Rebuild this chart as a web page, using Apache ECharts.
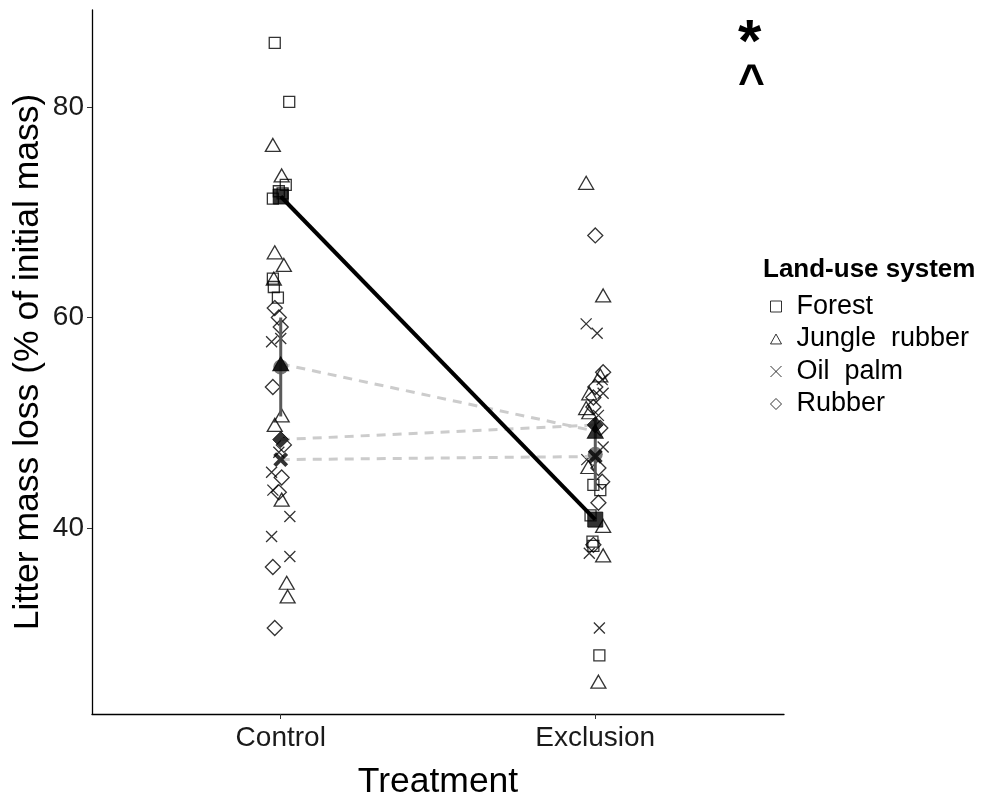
<!DOCTYPE html>
<html><head><meta charset="utf-8">
<script src="https://cdn.jsdelivr.net/npm/echarts@6/dist/echarts.min.js"></script>
<style>html,body{margin:0;padding:0;background:#fff}#c{width:981px;height:797px}</style>
</head><body><div id="c"></div>
<script>
// ---- data ----
const categories = ['Control', 'Exclusion'];
const groups = ['Forest', 'Jungle  rubber', 'Oil  palm', 'Rubber'];
const yTicks = [40, 60, 80];
// jittered observations: [treatment position (1=Control, 2=Exclusion, with jitter), litter mass loss %]
const forestPts = [[0.981,86.1],[1.027,80.5],[1.016,72.6],[0.994,72.0],[0.975,71.3],[1.006,71.8],[0.975,63.7],[0.978,62.9],[0.991,61.9],
  [1.994,44.1],[2.016,43.6],[1.985,41.2],[1.991,38.7],[1.994,38.3],[2.013,27.9]];
const junglePts = [[0.975,76.4],[1.003,73.5],[0.981,66.2],[1.010,65.0],[0.978,63.7],[1.003,50.7],[0.981,49.8],[1.003,42.7],[1.019,34.8],[1.022,33.5],
  [1.971,72.8],[2.025,62.1],[1.981,52.8],[1.971,51.4],[1.981,51.0],[2.016,54.5],[1.978,45.8],[2.025,40.2],[2.025,37.4],[2.010,25.4]];
const oilPts = [[1.000,58.0],[0.971,57.7],[0.994,47.2],[0.971,45.3],[0.975,43.6],[1.029,41.1],[0.971,39.2],[1.029,37.3],
  [1.971,59.4],[2.006,58.5],[2.022,54.1],[2.025,52.8],[2.010,50.7],[2.025,47.7],[1.973,46.5],[1.981,37.6],[2.013,30.5]];
const rubberPts = [[0.981,60.9],[0.994,60.0],[1.000,59.1],[0.975,53.4],[1.010,47.9],[1.003,44.8],[0.994,43.4],[0.975,36.3],[0.981,30.5],
  [2.000,67.8],[2.025,54.8],[2.000,53.4],[1.994,52.4],[1.994,51.5],[2.016,49.5],[2.010,45.7],[2.022,44.4],[2.010,42.4],[1.994,38.4]];
// group means per treatment
const forestMean = [71.5, 40.8];
const jungleMean = [55.6, 49.2];
const oilMean = [46.5, 46.8];
const rubberMean = [48.4, 49.8];
// overall mean and its error bar [low, high]
const grandMean = [55.3, 47.0];
const grandLow = [50.6, 43.6];
const grandHigh = [60.0, 50.4];

// ---- chart ----
const FONT = 'Liberation Sans, Arial, sans-serif';
const open = {color: 'rgba(0,0,0,0)', borderColor: '#000', borderWidth: 1.3};
const SQ = 'path://M0,0L10,0L10,10L0,10Z';
const TRI = 'path://M5,0L10,9L0,9Z';
const XS = 'path://M0,0L10,10M0,10L10,0';
const DI = 'path://M5,0L10,5L5,10L0,5Z';
const meanPts = arr => arr.map((v, i) => [i + 1, v]);
function ptsSeries(name, data, symbol, size) {
  return {name, type: 'scatter', data, symbol, symbolSize: size, itemStyle: open, z: 3, silent: true};
}
function meanLine(name, arr, dashed) {
  return {name: name + ' mean', type: 'line', data: meanPts(arr), symbol: 'none',
    lineStyle: dashed ? {color: '#cccccc', width: 3, type: [9, 7]} : {color: '#000', width: 4},
    z: dashed ? 4 : 8, silent: true};
}
function meanMarks(arr, symbol, size, filled) {
  return {type: 'scatter', data: meanPts(arr), symbol, symbolSize: size,
    itemStyle: filled ? {color: '#000', borderColor: '#000', borderWidth: 1} : {color: 'rgba(0,0,0,0)', borderColor: '#000', borderWidth: 4},
    z: 9, silent: true};
}
const errData = grandMean.map((v, i) => [i + 1, grandLow[i], grandHigh[i]]);
const option = {
  animation: false,
  grid: {left: 92, right: 197, top: 10, bottom: 83, containLabel: false, outerBoundsMode: 'none'},
  xAxis: {
    type: 'value', min: 0.4, max: 2.6,
    name: 'Treatment', nameLocation: 'middle', nameGap: 50, nameMoveOverlap: false,
    nameTextStyle: {fontFamily: FONT, fontSize: 35.5, color: '#000', verticalAlign: 'top'},
    axisLine: {show: true, lineStyle: {color: '#000', width: 1.3}},
    axisTick: {show: true, customValues: [1, 2], length: 5, lineStyle: {color: '#333'}},
    axisLabel: {customValues: [1, 2], formatter: v => categories[Math.round(v) - 1] || '',
      fontFamily: FONT, fontSize: 28, color: '#1a1a1a', margin: 10},
    splitLine: {show: false}
  },
  yAxis: {
    type: 'value', min: 22.33, max: 89.22,
    name: 'Litter mass loss (% of initial mass)', nameLocation: 'middle', nameGap: 46, nameRotate: 90,
    nameMoveOverlap: false,
    nameTextStyle: {fontFamily: FONT, fontSize: 35.5, color: '#000'},
    axisLine: {show: true, lineStyle: {color: '#000', width: 1.3}},
    axisTick: {show: true, customValues: yTicks, length: 5, lineStyle: {color: '#333'}},
    axisLabel: {customValues: yTicks, fontFamily: FONT, fontSize: 28, color: '#1a1a1a', margin: 8},
    splitLine: {show: false}
  },
  legend: {
    orient: 'vertical', left: 765, top: 288, itemWidth: 11, itemHeight: 11, itemGap: 5.5,
    data: groups, textStyle: {fontFamily: FONT, fontSize: 27, color: '#000', padding: [0, 0, 0, 10]},
    itemStyle: {borderWidth: 1}, selectedMode: false
  },
  graphic: [
    {type: 'text', left: 763, top: 257, style: {text: 'Land-use system', font: 'bold 26px ' + FONT, fill: '#000'}},
    {type: 'text', left: 738, top: 14, style: {text: '*', font: 'bold 60px ' + FONT, fill: '#000'}},
    {type: 'text', left: 738, top: 61, style: {text: '^', font: 'bold 46px ' + FONT, fill: '#000'}}
  ],
  series: [
    ptsSeries(groups[0], forestPts, SQ, 11),
    ptsSeries(groups[1], junglePts, TRI, [15, 13]),
    ptsSeries(groups[2], oilPts, XS, 11),
    ptsSeries(groups[3], rubberPts, DI, 15),
    meanLine('Jungle', jungleMean, true),
    meanLine('Oil', oilMean, true),
    meanLine('Rubber', rubberMean, true),
    {type: 'custom', data: errData, z: 6, silent: true,
      renderItem: (p, api) => {
        const a = api.coord([api.value(0), api.value(1)]);
        const b = api.coord([api.value(0), api.value(2)]);
        return {type: 'line', shape: {x1: a[0], y1: a[1], x2: b[0], y2: b[1]},
          style: {stroke: '#5a5a5a', lineWidth: 3}};
      }},
    {type: 'scatter', data: meanPts(grandMean), symbol: 'circle', symbolSize: 15,
      itemStyle: {color: '#5a5a5a'}, z: 6, silent: true},
    meanLine('Forest', forestMean, false),
    meanMarks(forestMean, SQ, 15, true),
    meanMarks(jungleMean, TRI, [16, 14], true),
    meanMarks(oilMean, XS, 12, false),
    meanMarks(rubberMean, DI, 16, true)
  ]
};
const chart = echarts.init(document.getElementById('c'), null, {renderer: 'canvas'});
chart.setOption(option);
</script></body></html>
